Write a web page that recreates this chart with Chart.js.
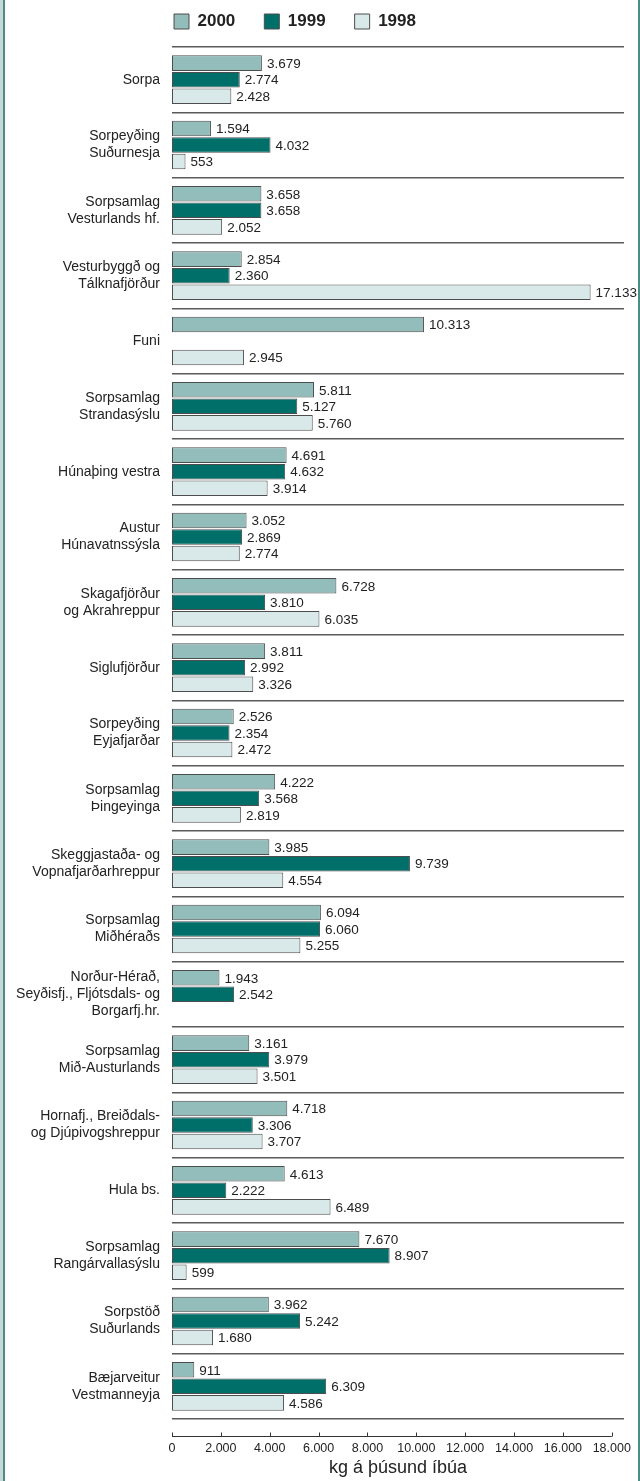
<!DOCTYPE html>
<html><head><meta charset="utf-8">
<script src="https://cdn.jsdelivr.net/npm/chart.js@4.4.1/dist/chart.umd.min.js"></script>
<style>
html,body{margin:0;padding:0;background:#fff;}
#wrap{position:relative;width:640px;height:1481px;}
#lb1{position:absolute;left:0;top:0;width:3px;height:100%;background:#c8d8d7;}
#lb2{position:absolute;left:3px;top:0;width:2px;height:100%;background:#4a8c88;}
#rb{position:absolute;right:0;top:0;width:2px;height:100%;background:#4a8c88;}
</style></head>
<body><div id="wrap"><canvas id="c"></canvas><div id="lb1"></div><div id="lb2"></div><div id="rb"></div></div>
<script>
const categories = [
 ['Sorpa'],
 ['Sorpeyðing','Suðurnesja'],
 ['Sorpsamlag','Vesturlands hf.'],
 ['Vesturbyggð og','Tálknafjörður'],
 ['Funi'],
 ['Sorpsamlag','Strandasýslu'],
 ['Húnaþing vestra'],
 ['Austur','Húnavatnssýsla'],
 ['Skagafjörður','og Akrahreppur'],
 ['Siglufjörður'],
 ['Sorpeyðing','Eyjafjarðar'],
 ['Sorpsamlag','Þingeyinga'],
 ['Skeggjastaða- og','Vopnafjarðarhreppur'],
 ['Sorpsamlag','Miðhéraðs'],
 ['Norður-Hérað,','Seyðisfj., Fljótsdals- og','Borgarfj.hr.'],
 ['Sorpsamlag','Mið-Austurlands'],
 ['Hornafj., Breiðdals-','og Djúpivogshreppur'],
 ['Hula bs.'],
 ['Sorpsamlag','Rangárvallasýslu'],
 ['Sorpstöð','Suðurlands'],
 ['Bæjarveitur','Vestmanneyja']
];
const values2000 = [3679,1594,3658,2854,10313,5811,4691,3052,6728,3811,2526,4222,3985,6094,1943,3161,4718,4613,7670,3962,911];
const values1999 = [2774,4032,3658,2360,null,5127,4632,2869,3810,2992,2354,3568,9739,6060,2542,3979,3306,2222,8907,5242,6309];
const values1998 = [2428,553,2052,17133,2945,5760,3914,2774,6035,3326,2472,2819,4554,5255,null,3501,3707,6489,599,1680,4586];
const seriesNames = ['2000','1999','1998'];
const tickValues = [0,2000,4000,6000,8000,10000,12000,14000,16000,18000];
const tickLabels = ['0','2.000','4.000','6.000','8.000','10.000','12.000','14.000','16.000','18.000'];
const axisTitle = 'kg á þúsund íbúa';

const FONT = '"Liberation Sans", Arial, sans-serif';
function fmt(v){ return String(v).replace(/\B(?=(\d{3})+(?!\d))/g,'.'); }

const valueLabels = {
  id:'valueLabels',
  afterDatasetsDraw(chart){
    const ctx = chart.ctx;
    ctx.save();
    ctx.font = '13.5px ' + FONT;
    ctx.fillStyle = '#222';
    ctx.textBaseline = 'middle';
    ctx.textAlign = 'left';
    chart.data.datasets.forEach((ds, di) => {
      const meta = chart.getDatasetMeta(di);
      meta.data.forEach((el, i) => {
        const v = ds.data[i];
        if (v == null) return;
        ctx.fillText(fmt(v), el.x + 5, el.y + 1);
      });
    });
    ctx.restore();
  }
};

const bottomAxis = {
  id:'bottomAxis',
  afterDraw(chart){
    const sx = chart.scales.x, ca = chart.chartArea, ctx = chart.ctx;
    const y = Math.round(ca.bottom + 17) + 0.5;
    const t = sx.ticks;
    ctx.save();
    ctx.strokeStyle = '#333';
    ctx.lineWidth = 1;
    ctx.beginPath();
    ctx.moveTo(sx.getPixelForValue(t[0].value), y);
    ctx.lineTo(sx.getPixelForValue(t[t.length-1].value), y);
    t.forEach(tk => {
      const px = Math.round(sx.getPixelForValue(tk.value)) + 0.5;
      ctx.moveTo(px, y);
      ctx.lineTo(px, y - 4);
    });
    ctx.stroke();
    ctx.restore();
  }
};

const legendPos = {
  id:'legendPos',
  afterLayout(chart){
    const lg = chart.legend; if (!lg) return;
    const p = lg.options.labels.padding;
    const dx = chart.chartArea.left + 2 - (lg.left + p);
    const dy = 13 - (lg.top + p);
    lg.left += dx; lg.right += dx; lg.top += dy; lg.bottom += dy;
  }
};

const colors = ['#93bdbb','#006f6a','#d9e8e8'];
const seriesValues = [values2000, values1999, values1998];

new Chart(document.getElementById('c'), {
  type:'bar',
  data:{
    labels: categories,
    datasets: seriesNames.map((n,i)=>({
      label:n, data:seriesValues[i], backgroundColor:colors[i],
      borderColor:'#4d4d4d', borderWidth:1, borderSkipped:false,
      categoryPercentage:0.76, barPercentage:0.94
    }))
  },
  options:{
    indexAxis:'y',
    responsive:true, maintainAspectRatio:false, animation:false,
    layout:{padding:{left:5,right:16,top:-9,bottom:2}},
    plugins:{
      legend:{
        position:'top', align:'start',
        labels:{boxWidth:15, boxHeight:15, padding:29, color:'#222',
          font:{family:FONT, size:17, weight:'bold'}}
      },
      tooltip:{enabled:false}
    },
    scales:{
      x:{
        type:'linear', min:0, max:18500,
        grid:{display:false, drawTicks:false}, border:{display:false},
        afterBuildTicks(s){ s.ticks = tickValues.map(v => ({value:v})); },
        ticks:{autoSkip:false, maxRotation:0,
          padding:22, color:'#222', font:{family:FONT, size:12.5},
          callback:(v)=>tickLabels[tickValues.indexOf(v)]},
        title:{display:true, text:axisTitle, color:'#222', padding:{top:1,bottom:0},
          font:{family:FONT, size:18}},
        afterFit(s){ s.height = 60; s.paddingLeft = 0; s.paddingRight = 0; }
      },
      y:{
        type:'category', offset:true,
        grid:{offset:true, color:'#5a5a5a', lineWidth:1.5, drawTicks:false},
        border:{display:false},
        ticks:{padding:12, autoSkip:false, color:'#222', font:{family:FONT, size:14, lineHeight:1.2}},
        afterFit(s){ s.width = 167; s.paddingTop = 0; s.paddingBottom = 0; }
      }
    }
  },
  plugins:[valueLabels, bottomAxis, legendPos]
});
</script>
</body></html>
